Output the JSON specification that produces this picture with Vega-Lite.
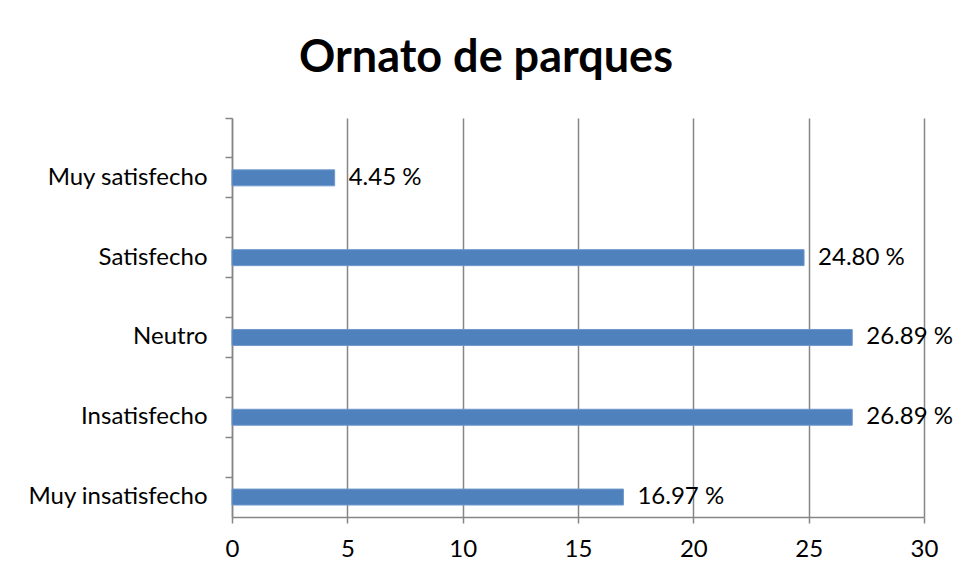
{
  "$schema": "https://vega.github.io/schema/vega-lite/v6.json",
  "width": 692,
  "height": 399,
  "autosize": {"type": "none"},
  "padding": {"left": 232, "top": 118, "right": 31, "bottom": 62},
  "background": "white",
  "title": {
    "text": "Ornato de parques",
    "font": "Lato",
    "fontSize": 45,
    "fontWeight": "bold",
    "color": "black",
    "anchor": "middle",
    "dx": -92,
    "offset": 36
  },
  "data": {
    "values": [
      {"categoria": "Muy satisfecho", "valor": 4.45},
      {"categoria": "Satisfecho", "valor": 24.80},
      {"categoria": "Neutro", "valor": 26.89},
      {"categoria": "Insatisfecho", "valor": 26.89},
      {"categoria": "Muy insatisfecho", "valor": 16.97}
    ]
  },
  "transform": [
    {"calculate": "format(datum.valor, '.2f') + ' %'", "as": "etiqueta"}
  ],
  "config": {
    "view": {"stroke": null},
    "axis": {
      "labelFont": "Lato",
      "labelFontSize": 24,
      "labelColor": "black",
      "domainColor": "#868686",
      "tickColor": "#868686",
      "gridColor": "#868686",
      "domainWidth": 1.5,
      "tickWidth": 1.5,
      "gridWidth": 1.5
    }
  },
  "encoding": {
    "y": {
      "field": "categoria",
      "type": "nominal",
      "scale": {
        "domain": ["_a", "Muy satisfecho", "_b", "Satisfecho", "_c", "Neutro", "_d", "Insatisfecho", "_e", "Muy insatisfecho"],
        "paddingInner": 0,
        "paddingOuter": 0
      },
      "axis": {
        "title": null,
        "tickSize": 7,
        "labelPadding": 18,
        "bandPosition": 0,
        "labelBound": false,
        "labelExpr": "indexof(datum.value, '_') == 0 ? '' : datum.value"
      }
    },
    "x": {
      "field": "valor",
      "type": "quantitative",
      "scale": {"domain": [0, 30], "nice": false},
      "axis": {
        "title": null,
        "values": [0, 5, 10, 15, 20, 25, 30],
        "tickSize": 6,
        "labelPadding": 14,
        "grid": true,
        "labelFlush": false
      }
    }
  },
  "layer": [
    {
      "mark": {"type": "bar", "color": "#4F81BD", "stroke": "#6E98CC", "strokeWidth": 1, "height": {"band": 0.4}}
    },
    {
      "mark": {"type": "text", "align": "left", "baseline": "middle", "dx": 14, "font": "Lato", "fontSize": 24, "color": "black"},
      "encoding": {"text": {"field": "etiqueta"}}
    }
  ]
}
